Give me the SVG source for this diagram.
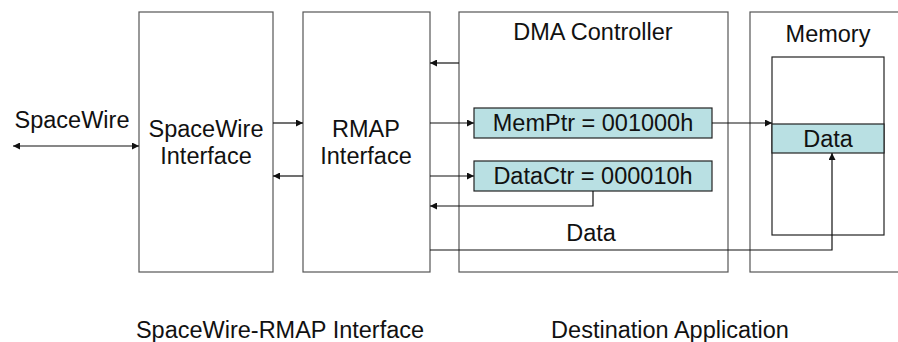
<svg xmlns="http://www.w3.org/2000/svg" width="898" height="342" viewBox="0 0 898 342">
<style>
.box{fill:#fff;stroke:#555;stroke-width:1.2}
.reg{fill:#b9e0e3;stroke:#222;stroke-width:1.2}
.t{font-family:"Liberation Sans",Arial,sans-serif;font-size:23.5px;fill:#111;text-anchor:middle}
.c{fill:none;stroke:#111;stroke-width:1.2}
</style>
<defs>
<marker id="ah" viewBox="0 0 10 10" refX="10" refY="5" markerWidth="9" markerHeight="7" markerUnits="userSpaceOnUse" orient="auto-start-reverse">
<path d="M0,0 L10,5 L0,10 z" fill="#111"/>
</marker>
</defs>
<g id="spw-if">
<rect class="box" x="139" y="12" width="134" height="260"/>
<text class="t" x="206" y="137">SpaceWire</text>
<text class="t" x="206" y="164">Interface</text>
</g>
<g id="rmap-if">
<rect class="box" x="303" y="12" width="127" height="260"/>
<text class="t" x="366" y="137">RMAP</text>
<text class="t" x="366" y="164">Interface</text>
</g>
<g id="dma">
<rect class="box" x="459" y="12" width="269" height="260"/>
<text class="t" x="593" y="40">DMA Controller</text>
</g>
<g id="memptr">
<rect class="reg" x="474" y="108" width="238" height="30"/>
<text class="t" x="593" y="131">MemPtr = 001000h</text>
</g>
<g id="datactr">
<rect class="reg" x="474" y="161" width="238" height="30"/>
<text class="t" x="593" y="184">DataCtr = 000010h</text>
</g>
<g id="memory">
<rect class="box" x="750" y="12" width="160" height="260"/>
<text class="t" x="828" y="42">Memory</text>
<rect fill="#fff" stroke="#222" stroke-width="1.2" x="772" y="57" width="112" height="178"/>
<rect class="reg" x="772" y="124" width="112" height="29"/>
<text class="t" x="828" y="147">Data</text>
</g>
<g id="labels">
<text class="t" x="72" y="128">SpaceWire</text>
<text class="t" x="280" y="338">SpaceWire-RMAP Interface</text>
<text class="t" x="670" y="338">Destination Application</text>
<text class="t" x="591" y="241">Data</text>
</g>
<g id="connectors">
<path class="c" d="M13,146 H139" marker-start="url(#ah)" marker-end="url(#ah)"/>
<path class="c" d="M273,123 H303" marker-end="url(#ah)"/>
<path class="c" d="M303,176 H273" marker-end="url(#ah)"/>
<path class="c" d="M459,63 H430" marker-end="url(#ah)"/>
<path class="c" d="M430,123 H474" marker-end="url(#ah)"/>
<path class="c" d="M430,176 H474" marker-end="url(#ah)"/>
<path class="c" d="M593,191 V206 H430" marker-end="url(#ah)"/>
<path class="c" d="M712,123 H772" marker-end="url(#ah)"/>
<path class="c" d="M430,250 H832 V153" marker-end="url(#ah)"/>
</g>
</svg>
